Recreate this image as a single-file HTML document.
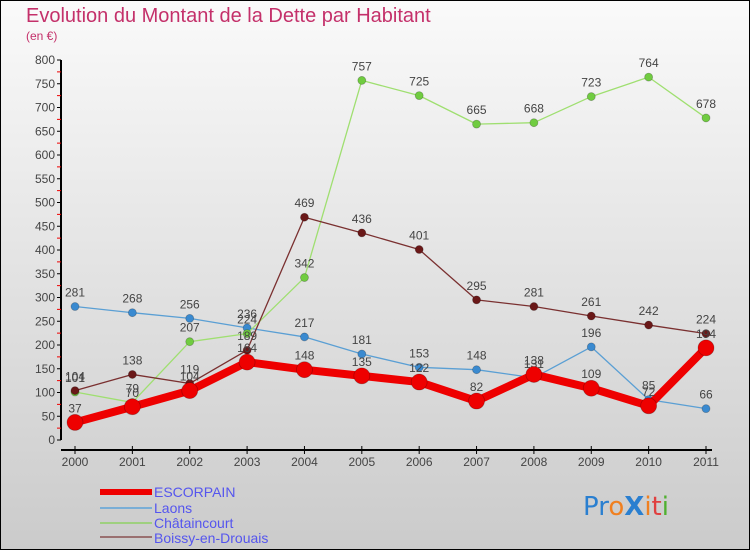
<!DOCTYPE html>
<html><head><meta charset="utf-8"><style>
body{margin:0;}
svg{display:block;font-family:"Liberation Sans",sans-serif;}
</style></head><body>
<svg id="chart" width="750" height="550" viewBox="0 0 750 550">
<defs><linearGradient id="bg" x1="0" y1="0" x2="0" y2="1"><stop offset="0" stop-color="#fafafa"/><stop offset="1" stop-color="#cbcbcb"/></linearGradient></defs>
<rect x="0.5" y="0.5" width="749" height="549" fill="url(#bg)" stroke="#000"/>
<text x="26" y="22" font-size="20" fill="#c4306a">Evolution du Montant de la Dette par Habitant</text>
<text x="26" y="40" font-size="12" fill="#c4306a">(en €)</text>
<g id="axes"></g>
<g id="series"></g>
<g id="legend">
<rect x="100" y="489" width="52" height="6" fill="#ee0000"/>
<text x="154" y="497" font-size="14" fill="#5555ee">ESCORPAIN</text>
<line x1="100" y1="508" x2="152" y2="508" stroke="#7aaed6" stroke-width="2"/>
<text x="154" y="513" font-size="14" fill="#5555ee">Laons</text>
<line x1="100" y1="523" x2="152" y2="523" stroke="#9fd07f" stroke-width="2"/>
<text x="154" y="528" font-size="14" fill="#5555ee">Châtaincourt</text>
<line x1="100" y1="537" x2="152" y2="537" stroke="#9a7070" stroke-width="2"/>
<text x="154" y="543" font-size="14" fill="#5555ee">Boissy-en-Drouais</text>
</g>
<g font-size="26" font-family="'DejaVu Sans',sans-serif">
<text x="583" y="515"><tspan fill="#2a7fd0">Pr</tspan><tspan fill="#f08020">o</tspan><tspan fill="#2a7fd0" font-weight="bold">X</tspan><tspan fill="#f08020">i</tspan><tspan fill="#e04040">t</tspan><tspan fill="#50b030">i</tspan></text>
</g>
</svg>
<script>
const years=["2000","2001","2002","2003","2004","2005","2006","2007","2008","2009","2010","2011"];
const yTicks=[0,50,100,150,200,250,300,350,400,450,500,550,600,650,700,750,800];
const escorpain=[37,70,104,164,148,135,122,82,138,109,72,194];
const laons=[281,268,256,236,217,181,153,148,131,196,85,66];
const chataincourt=[101,79,207,224,342,757,725,665,668,723,764,678];
const boissy=[104,138,119,189,469,436,401,295,281,261,242,224];
const NS="http://www.w3.org/2000/svg";
function xs(i){return 75+i*(706-75)/(years.length-1);}
function ys(v){return 440-v*380/800;}
function mk(tag,attrs,parent){const e=document.createElementNS(NS,tag);for(const k in attrs)e.setAttribute(k,attrs[k]);parent.appendChild(e);return e;}
const axes=document.getElementById('axes');
const yAxis=mk('line',{x1:61,y1:60,x2:61,y2:440,stroke:'#000','stroke-width':2},axes);


const xAxis=mk('line',{x1:61,y1:450,x2:712,y2:450,stroke:'#000','stroke-width':2},axes);


yTicks.forEach(v=>{
  mk('line',{x1:57,y1:ys(v),x2:61,y2:ys(v),stroke:'#000'},axes);
  if(v<800) mk('line',{x1:57,y1:ys(v+25),x2:61,y2:ys(v+25),stroke:'#e00'},axes);
  const t=mk('text',{x:55,y:ys(v)+4,'font-size':12,fill:'#444','text-anchor':'end'},axes);
  t.textContent=v;
  
  
});
years.forEach((y,i)=>{
  mk('line',{x1:xs(i),y1:446,x2:xs(i),y2:454,stroke:'#000'},axes);
  const t=mk('text',{x:xs(i),y:466,'font-size':12,fill:'#444','text-anchor':'middle'},axes);
  t.textContent=y;
  
  
});
const ser=document.getElementById('series');
function draw(vals,name,color,dot,w,r){
  const g=mk('g',{},ser);
  
  
  const p=mk('polyline',{points:vals.map((v,i)=>xs(i)+','+ys(v)).join(' '),fill:'none',stroke:color,'stroke-width':w,'stroke-linejoin':'round'},g);
  
  
  vals.forEach((v,i)=>{
    const c=mk('circle',{cx:xs(i),cy:ys(v),r:r,fill:dot,stroke:'rgba(0,0,0,0.25)','stroke-width':0.8},g);
    
    
    const t=mk('text',{x:xs(i),y:ys(v)-10,'font-size':12,fill:'#444','text-anchor':'middle'},g);
    t.textContent=v;
    
    
  });
}
draw(laons,'laons','#5a9fd4','#3a8ad0',1.3,4);
draw(chataincourt,'chataincourt','#9fdf70','#70cc40',1.3,4);
draw(boissy,'boissy','#7a3030','#6a1818',1.3,4);
draw(escorpain,'escorpain','#ee0000','#ee0000',8,8);
</script>
</body></html>
